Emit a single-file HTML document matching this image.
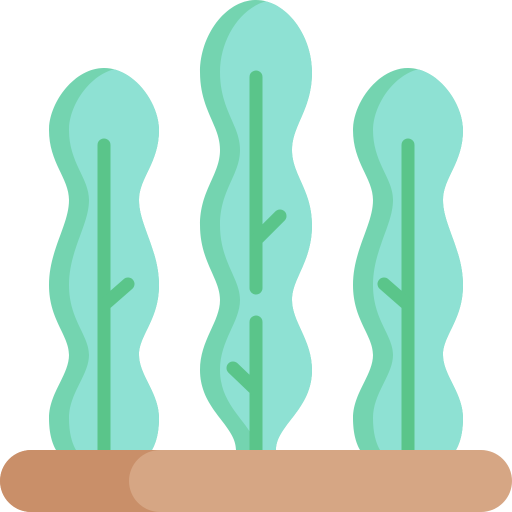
<!DOCTYPE html>
<html><head><meta charset="utf-8"><style>html,body{margin:0;padding:0;background:#fff}svg{display:block}</style></head>
<body>
<svg width="512" height="512" viewBox="0 0 512 512">
<defs>
<path id="leafA" d="M0,0 C30,0 55,35 55,62 C55,95 35,110 35,132 C35,157 55,182 55,217 C55,252 35,267 35,287 C35,307 55,325 55,350 C55,365 52,375 48,382 L-48,382 C-52,375 -55,365 -55,350 C-55,325 -35,307 -35,287 C-35,267 -55,252 -55,217 C-55,182 -35,157 -35,132 C-35,110 -55,95 -55,62 C-55,35 -30,0 0,0Z"/>
<path id="leafB" d="M0,0 C30,0 56,35 56,72 C56,110 36,125 36,150 C36,175 56,190 56,225 C56,262 36,278 36,300 C36,322 56,340 56,370 C56,410 20,425 20,450 L-20,450 C-20,425 -56,410 -56,370 C-56,340 -36,322 -36,300 C-36,278 -56,262 -56,225 C-56,190 -36,175 -36,150 C-36,125 -56,110 -56,72 C-56,35 -30,0 0,0Z"/>
<clipPath id="cA"><use href="#leafA"/></clipPath>
<clipPath id="cB"><use href="#leafB"/></clipPath>
</defs>
<g transform="translate(104,68)">
<use href="#leafA" fill="#74d4b0"/>
<g clip-path="url(#cA)"><use href="#leafA" fill="#8ee1d3" transform="translate(20,0)"/></g>
</g>
<g transform="translate(256,0)">
<use href="#leafB" fill="#74d4b0"/>
<g clip-path="url(#cB)"><use href="#leafB" fill="#8ee1d3" transform="translate(20,0)"/></g>
</g>
<g transform="translate(408,68)">
<use href="#leafA" fill="#74d4b0"/>
<g clip-path="url(#cA)"><use href="#leafA" fill="#8ee1d3" transform="translate(20,0)"/></g>
</g>
<g stroke="#5ac58a" stroke-width="13" stroke-linecap="round" fill="none">
<line x1="104" y1="145" x2="104" y2="455"/>
<line x1="104" y1="305" x2="128" y2="284"/>
<line x1="256" y1="77" x2="256" y2="288"/>
<line x1="256" y1="240" x2="280" y2="216"/>
<line x1="256" y1="322" x2="256" y2="455"/>
<line x1="256" y1="390" x2="233" y2="368"/>
<line x1="408" y1="145" x2="408" y2="455"/>
<line x1="408" y1="305" x2="384" y2="284"/>
</g>
<g>
<rect x="0" y="450" width="512" height="62" rx="31" fill="#d6a684"/>
<path d="M31,450 L160,450 A31,31 0 0 0 160,512 L31,512 A31,31 0 0 1 31,450Z" fill="#c98f69"/>
</g>
</svg>
</body></html>
